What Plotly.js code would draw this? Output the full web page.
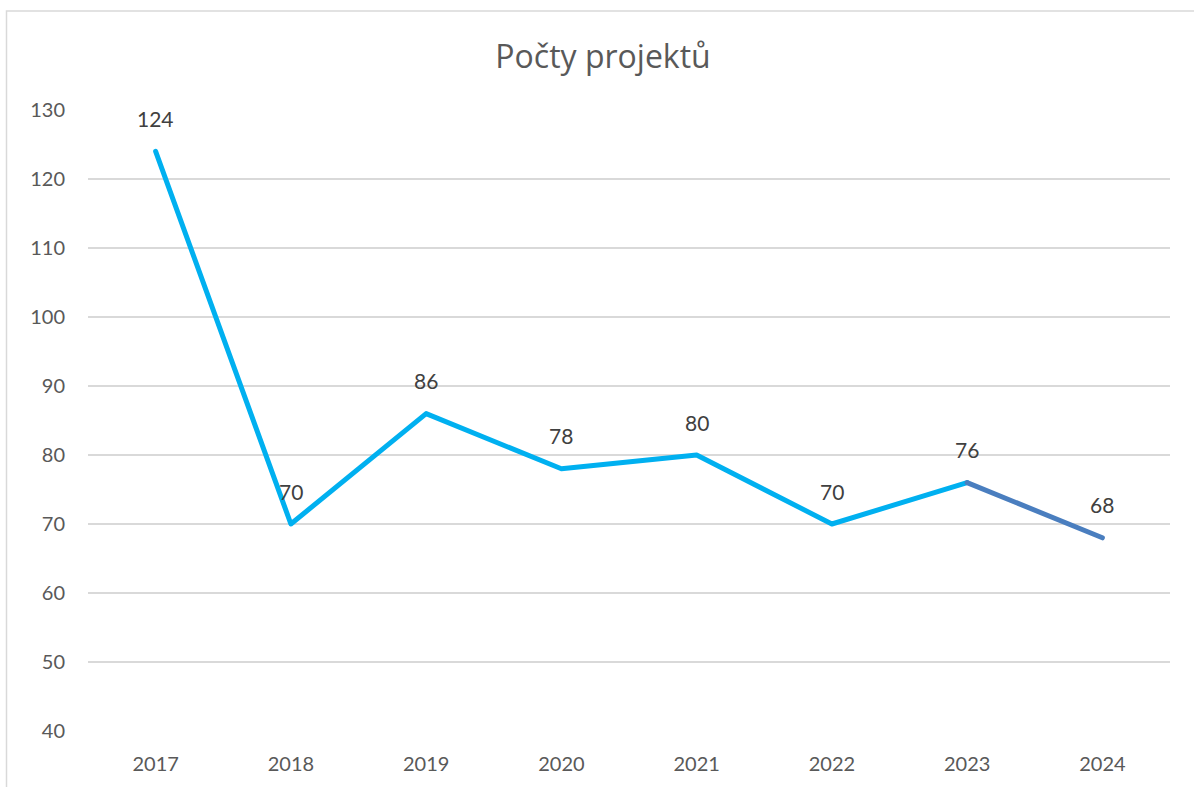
<!DOCTYPE html>
<html>
<head>
<meta charset="utf-8">
<script src="https://cdn.plot.ly/plotly-3.0.1.min.js"></script>
<style>
html,body{margin:0;padding:0;background:#fff;}
#chart{width:1194px;height:787px;}
#chart .js-line{stroke-linecap:round;stroke-linejoin:round;}
</style>
</head>
<body>
<div id="chart"></div>
<script>
const years = ["2017","2018","2019","2020","2021","2022","2023","2024"];
const counts = [124, 70, 86, 78, 80, 70, 76, 68];
const yTicks = [40, 50, 60, 70, 80, 90, 100, 110, 120, 130];
const chartTitle = "Počty projektů";

const lightBlue = "#00B0F0";
const darkBlue = "#4A7EBF";
const splitIdx = 6;

const traces = [
  {
    x: years.slice(0, splitIdx + 1),
    y: counts.slice(0, splitIdx + 1),
    type: "scatter", mode: "lines",
    line: {color: lightBlue, width: 5},
    hoverinfo: "skip", showlegend: false
  },
  {
    x: years.slice(splitIdx),
    y: counts.slice(splitIdx),
    type: "scatter", mode: "lines",
    line: {color: darkBlue, width: 5},
    hoverinfo: "skip", showlegend: false
  }
];

const annotations = years.map((yr, i) => ({
  x: i, y: counts[i], xref: "x", yref: "y",
  text: String(counts[i]), showarrow: false,
  yshift: 33,
  font: {family: "Lato, 'Open Sans', sans-serif", size: 21, color: "#404040"}
}));

const layout = {
  width: 1194, height: 787,
  paper_bgcolor: "#fff", plot_bgcolor: "#fff",
  margin: {l: 88, r: 24, t: 110, b: 56, pad: 0},
  title: {
    text: chartTitle,
    x: 603/1194, xref: "container", xanchor: "center",
    y: 1 - 57/787, yref: "container", yanchor: "middle",
    font: {family: "'Open Sans', Lato, sans-serif", size: 32, color: "#595959"}
  },
  xaxis: {
    type: "category",
    range: [-0.5, years.length - 0.5],
    showgrid: false, zeroline: false, showline: false,
    ticks: "", ticklabelstandoff: 19,
    tickfont: {family: "Lato, 'Open Sans', sans-serif", size: 20, color: "#595959"},
    fixedrange: true
  },
  yaxis: {
    range: [40, 130],
    tickvals: yTicks,
    ticktext: yTicks.map(String),
    showgrid: true, gridcolor: "#d9d9d9", gridwidth: 1.5,
    zeroline: false, showline: false,
    ticks: "", ticklabelstandoff: 22,
    tickfont: {family: "Lato, 'Open Sans', sans-serif", size: 20, color: "#595959"},
    fixedrange: true
  },
  annotations: annotations,
  shapes: [{
    type: "rect", xref: "paper", yref: "paper",
    x0: (6.5 - 88) / 1082, x1: 1.2,
    y0: -0.3, y1: (731 - 11) / 621,
    line: {color: "#d9d9d9", width: 1.5},
    fillcolor: "rgba(0,0,0,0)", layer: "below"
  }]
};

Plotly.newPlot("chart", traces, layout, {displayModeBar: false, staticPlot: true});
</script>
</body>
</html>
